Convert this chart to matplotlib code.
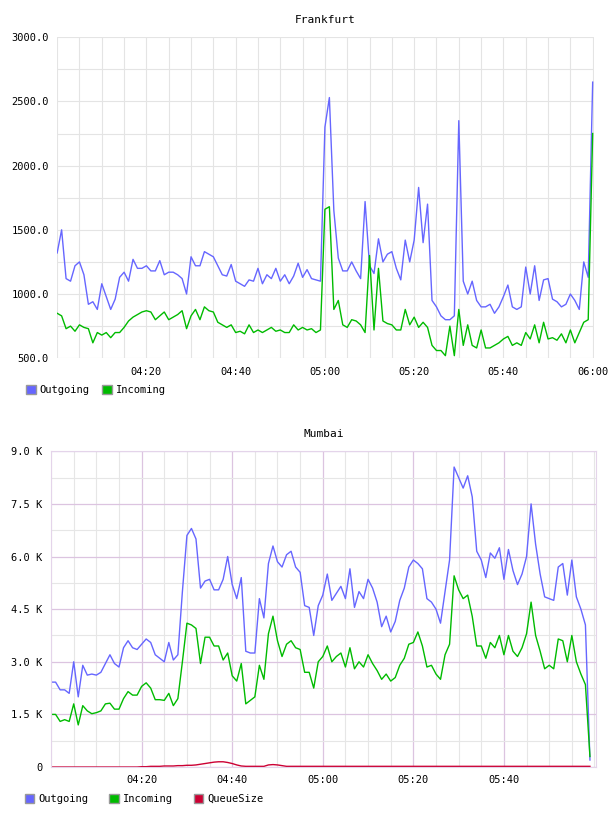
import matplotlib.pyplot as plt
from matplotlib.patches import Patch
from matplotlib.ticker import FuncFormatter, MultipleLocator

# Frankfurt, one value per minute from 04:00 to 06:00
fra_out = [1320, 1500, 1120, 1100, 1220, 1250, 1150, 920, 940, 880,
           1080, 980, 880, 960, 1130, 1170, 1100, 1270, 1200, 1200,
           1220, 1180, 1180, 1260, 1150, 1170, 1170, 1150, 1120, 1000,
           1290, 1220, 1220, 1330, 1310, 1290, 1220, 1150, 1140, 1230,
           1100, 1080, 1060, 1110, 1100, 1200, 1080, 1150, 1120, 1200,
           1100, 1150, 1080, 1140, 1240, 1130, 1190, 1120, 1110, 1100,
           2300, 2530, 1650, 1280, 1180, 1180, 1250, 1180, 1120, 1720,
           1220, 1160, 1430, 1250, 1310, 1330, 1200, 1110, 1420, 1250,
           1420, 1830, 1400, 1700, 950, 900, 830, 800, 800, 830,
           2350, 1100, 1000, 1100, 950, 900, 900, 920, 850, 900,
           980, 1070, 900, 880, 900, 1210, 1000, 1220, 950, 1110,
           1120, 960, 940, 900, 920, 1000, 950, 880, 1250, 1130, 2650]
fra_in = [850, 830, 730, 750, 710, 760, 740, 730, 620, 700,
          680, 700, 660, 700, 700, 740, 790, 820, 840, 860,
          870, 860, 800, 830, 860, 800, 820, 840, 870, 730,
          830, 880, 800, 900, 870, 860, 780, 760, 740, 760,
          700, 710, 690, 760, 700, 720, 700, 720, 740, 710,
          720, 700, 700, 760, 720, 740, 720, 730, 700, 720,
          1660, 1680, 880, 950, 760, 740, 800, 790, 760, 700,
          1300, 720, 1200, 790, 770, 760, 720, 720, 880, 760,
          820, 740, 780, 740, 600, 560, 560, 520, 750, 520,
          880, 600, 760, 600, 580, 720, 580, 580, 600, 620,
          650, 670, 600, 620, 600, 700, 650, 760, 620, 780,
          650, 660, 640, 690, 620, 720, 620, 700, 780, 800, 2250]

# Mumbai, thousands, one value per minute from 04:00
mum_out = [2.42, 2.42, 2.2, 2.2, 2.1, 3.0, 2.0, 2.9, 2.62, 2.65,
           2.62, 2.7, 2.95, 3.2, 2.95, 2.85, 3.4, 3.6, 3.4, 3.35,
           3.5, 3.65, 3.55, 3.2, 3.1, 3.0, 3.55, 3.05, 3.2, 5.0,
           6.6, 6.8, 6.5, 5.1, 5.3, 5.35, 5.05, 5.05, 5.35, 6.0,
           5.2, 4.8, 5.4, 3.3, 3.25, 3.25, 4.8, 4.25, 5.8, 6.3,
           5.85, 5.7, 6.05, 6.15, 5.7, 5.55, 4.6, 4.55, 3.75, 4.6,
           4.9, 5.5, 4.75, 4.95, 5.15, 4.8, 5.65, 4.55, 5.0, 4.8,
           5.35, 5.1, 4.7, 4.0, 4.3, 3.85, 4.15, 4.75, 5.1, 5.7,
           5.9, 5.8, 5.65, 4.8, 4.7, 4.5, 4.1, 5.0, 5.9, 8.55,
           8.25, 7.95, 8.3, 7.7, 6.15, 5.9, 5.4, 6.1, 5.95, 6.25,
           5.35, 6.2, 5.6, 5.2, 5.5, 6.0, 7.5, 6.35, 5.5, 4.85,
           4.8, 4.75, 5.7, 5.8, 4.9, 5.9, 4.85, 4.5, 4.05, 0.2]
mum_in = [1.5, 1.5, 1.3, 1.35, 1.3, 1.8, 1.2, 1.75, 1.6, 1.52,
          1.55, 1.6, 1.8, 1.82, 1.65, 1.65, 1.95, 2.15, 2.05, 2.05,
          2.3, 2.4, 2.25, 1.92, 1.92, 1.9, 2.1, 1.75, 1.95, 3.0,
          4.1, 4.05, 3.95, 2.95, 3.7, 3.7, 3.45, 3.45, 3.05, 3.25,
          2.6, 2.45, 2.95, 1.8, 1.9, 2.0, 2.9, 2.5, 3.8, 4.3,
          3.6, 3.15, 3.5, 3.6, 3.4, 3.35, 2.7, 2.7, 2.25, 3.0,
          3.15, 3.45, 3.0, 3.15, 3.25, 2.85, 3.4, 2.8, 3.0, 2.85,
          3.2, 2.95, 2.75, 2.5, 2.65, 2.45, 2.55, 2.9, 3.1, 3.5,
          3.55, 3.85, 3.45, 2.85, 2.9, 2.65, 2.5, 3.2, 3.5, 5.45,
          5.05, 4.8, 4.9, 4.3, 3.45, 3.45, 3.1, 3.55, 3.4, 3.75,
          3.2, 3.75, 3.3, 3.15, 3.4, 3.8, 4.7, 3.75, 3.3, 2.8,
          2.9, 2.8, 3.65, 3.6, 3.0, 3.75, 3.0, 2.65, 2.35, 0.3]
mum_queue = ([0.0] * 20 + [0.01, 0.01, 0.02, 0.02, 0.02, 0.03, 0.03, 0.03, 0.04, 0.04,
              0.05, 0.05, 0.06, 0.08, 0.1, 0.12, 0.14, 0.15, 0.15, 0.13,
              0.1, 0.06, 0.03, 0.02, 0.02, 0.02, 0.02, 0.02, 0.06, 0.07,
              0.06, 0.04, 0.02, 0.02, 0.02, 0.02, 0.02, 0.02, 0.02, 0.02]
             + [0.02] * 60)

tick_labels = ["04:20", "04:40", "05:00", "05:20", "05:40", "06:00"]
tick_pos = [20, 40, 60, 80, 100, 120]

BLUE = "#6666ff"
GREEN = "#00bb00"
RED = "#cc0033"
font = "DejaVu Sans Mono"

fig = plt.figure(figsize=(6.08, 8.16), dpi=100)

# Frankfurt
ax1 = fig.add_axes([0.094, 0.561, 0.883, 0.3934])
m = list(range(len(fra_out)))
ax1.plot(m, fra_out, color=BLUE, lw=1)
ax1.plot(m, fra_in, color=GREEN, lw=1)
ax1.set_xlim(0, 120.3)
ax1.set_ylim(500, 3000)
ax1.set_yticks([500, 1000, 1500, 2000, 2500, 3000])
ax1.yaxis.set_major_formatter(FuncFormatter(lambda v, p: f"{v:.1f}"))
ax1.yaxis.set_minor_locator(MultipleLocator(250))
ax1.set_xticks(tick_pos)
ax1.set_xticklabels(tick_labels)
ax1.xaxis.set_minor_locator(MultipleLocator(5))
ax1.grid(which="both", color="#e4e4e4", lw=0.8)
for s in ax1.spines.values():
    s.set_visible(False)
ax1.tick_params(which="both", length=0, labelsize=7.5, pad=6)
ax1.set_title("Frankfurt", fontsize=8, fontfamily=font, pad=10)
for lab in ax1.get_xticklabels() + ax1.get_yticklabels():
    lab.set_fontfamily(font)
ax1.legend(handles=[Patch(facecolor=BLUE, edgecolor="#999999", label="Outgoing"),
                    Patch(facecolor=GREEN, edgecolor="#999999", label="Incoming")],
           loc="upper left", bbox_to_anchor=(-0.075, -0.055), ncol=2, frameon=False,
           prop={"family": font, "size": 7.5}, handlelength=0.9, handleheight=0.9,
           columnspacing=1.2, handletextpad=0.4)

# Mumbai
ax2 = fig.add_axes([0.084, 0.060, 0.896, 0.387])
m = list(range(len(mum_out)))
ax2.plot(m, mum_out, color=BLUE, lw=1)
ax2.plot(m, mum_in, color=GREEN, lw=1)
ax2.plot(list(range(len(mum_queue))), mum_queue, color=RED, lw=1)
ax2.set_xlim(0, 120.3)
ax2.set_ylim(0, 9)
ax2.set_yticks([0, 1.5, 3, 4.5, 6, 7.5, 9])
ax2.yaxis.set_major_formatter(FuncFormatter(lambda v, p: "0" if v == 0 else f"{v:.1f} K"))
ax2.yaxis.set_minor_locator(MultipleLocator(0.75))
ax2.set_xticks(tick_pos[:-1])
ax2.set_xticklabels(tick_labels[:-1])
ax2.xaxis.set_minor_locator(MultipleLocator(5))
ax2.grid(which="major", color="#dcc4e0", lw=0.9)
ax2.grid(which="minor", color="#e6e6e6", lw=0.8)
for s in ax2.spines.values():
    s.set_color("#e4d4ea")
ax2.tick_params(which="both", length=0, labelsize=7.5, pad=6)
ax2.set_title("Mumbai", fontsize=8, fontfamily=font, pad=10)
for lab in ax2.get_xticklabels() + ax2.get_yticklabels():
    lab.set_fontfamily(font)
ax2.legend(handles=[Patch(facecolor=BLUE, edgecolor="#999999", label="Outgoing"),
                    Patch(facecolor=GREEN, edgecolor="#999999", label="Incoming"),
                    Patch(facecolor=RED, edgecolor="#999999", label="QueueSize")],
           loc="upper left", bbox_to_anchor=(-0.065, -0.055), ncol=3, frameon=False,
           prop={"family": font, "size": 7.5}, handlelength=0.9, handleheight=0.9,
           columnspacing=2.0, handletextpad=0.4)

fig.savefig("out.png", dpi=100)
